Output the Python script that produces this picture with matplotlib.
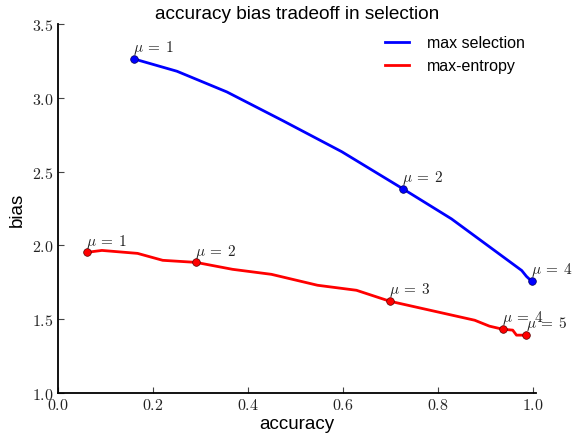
import matplotlib
matplotlib.use("Agg")
import matplotlib.pyplot as plt
from matplotlib.ticker import FuncFormatter

plt.rcParams['mathtext.fontset'] = 'cm'
plt.rcParams['font.family'] = ['Liberation Sans', 'DejaVu Sans']

# max selection curve
sel_acc = [0.160, 0.251, 0.356, 0.474, 0.598, 0.726, 0.829, 0.977, 0.987, 0.998]
sel_bias = [3.264, 3.18, 3.04, 2.845, 2.635, 2.385, 2.18, 1.83, 1.79, 1.757]
sel_mu_idx = [0, 5, 9]
sel_mu = [1, 2, 4]

# max-entropy curve
ent_acc = [0.061, 0.093, 0.168, 0.221, 0.291, 0.368, 0.450, 0.547, 0.629, 0.699,
           0.878, 0.909, 0.937, 0.958, 0.966, 0.987]
ent_bias = [1.953, 1.966, 1.946, 1.899, 1.885, 1.838, 1.804, 1.73, 1.696, 1.622,
            1.493, 1.453, 1.432, 1.426, 1.392, 1.392]
ent_mu_idx = [0, 4, 9, 12, 15]
ent_mu = [1, 2, 3, 4, 5]

fig = plt.figure(figsize=(5.72, 4.39), dpi=100)
ax = fig.add_axes([0.101, 0.1025, 0.836, 0.8405])

ax.plot(sel_acc, sel_bias, color='#0000ff', lw=2, label='max selection')
ax.plot(ent_acc, ent_bias, color='#ff0000', lw=2, label='max-entropy')

for acc, bias, idx, mus, c in [(sel_acc, sel_bias, sel_mu_idx, sel_mu, '#0000ff'),
                               (ent_acc, ent_bias, ent_mu_idx, ent_mu, '#ff0000')]:
    ax.plot([acc[i] for i in idx], [bias[i] for i in idx], 'o', color=c,
            ms=5.5, mec='#550000' if c == '#ff0000' else '#000055', mew=0.5)
    for i, m in zip(idx, mus):
        ax.annotate(r'$\mu\:=\:%d$' % m, (acc[i], bias[i]), xytext=(-0.5, 2),
                    textcoords='offset points', fontsize=11, color='#222222',
                    ha='left', va='bottom')

ax.set_xlim(0, 1.007)
ax.set_ylim(1.0, 3.5)
ax.set_xticks([0.0, 0.2, 0.4, 0.6, 0.8, 1.0])
ax.set_yticks([1.0, 1.5, 2.0, 2.5, 3.0, 3.5])
fmt = FuncFormatter(lambda v, p: r'$%.1f$' % v)
ax.xaxis.set_major_formatter(fmt)
ax.yaxis.set_major_formatter(fmt)
ax.tick_params(direction='in', length=4, width=0.8, labelsize=11.5, pad=3,
               colors='#444444', labelcolor='#222222')
ax.spines['top'].set_visible(False)
ax.spines['right'].set_visible(False)
ax.spines['left'].set_linewidth(1.3)
ax.spines['bottom'].set_linewidth(1.3)

ax.set_title('accuracy bias tradeoff in selection', fontsize=13.7, pad=4)
ax.set_xlabel('accuracy', fontsize=13.5, labelpad=2)
ax.set_ylabel('bias', fontsize=13.5, labelpad=4)

ax.legend(loc='upper right', frameon=False, fontsize=11.5, handlelength=1.5,
          handletextpad=1.1, borderaxespad=0.3, labelspacing=0.5)

fig.savefig('out.png', dpi=100)
